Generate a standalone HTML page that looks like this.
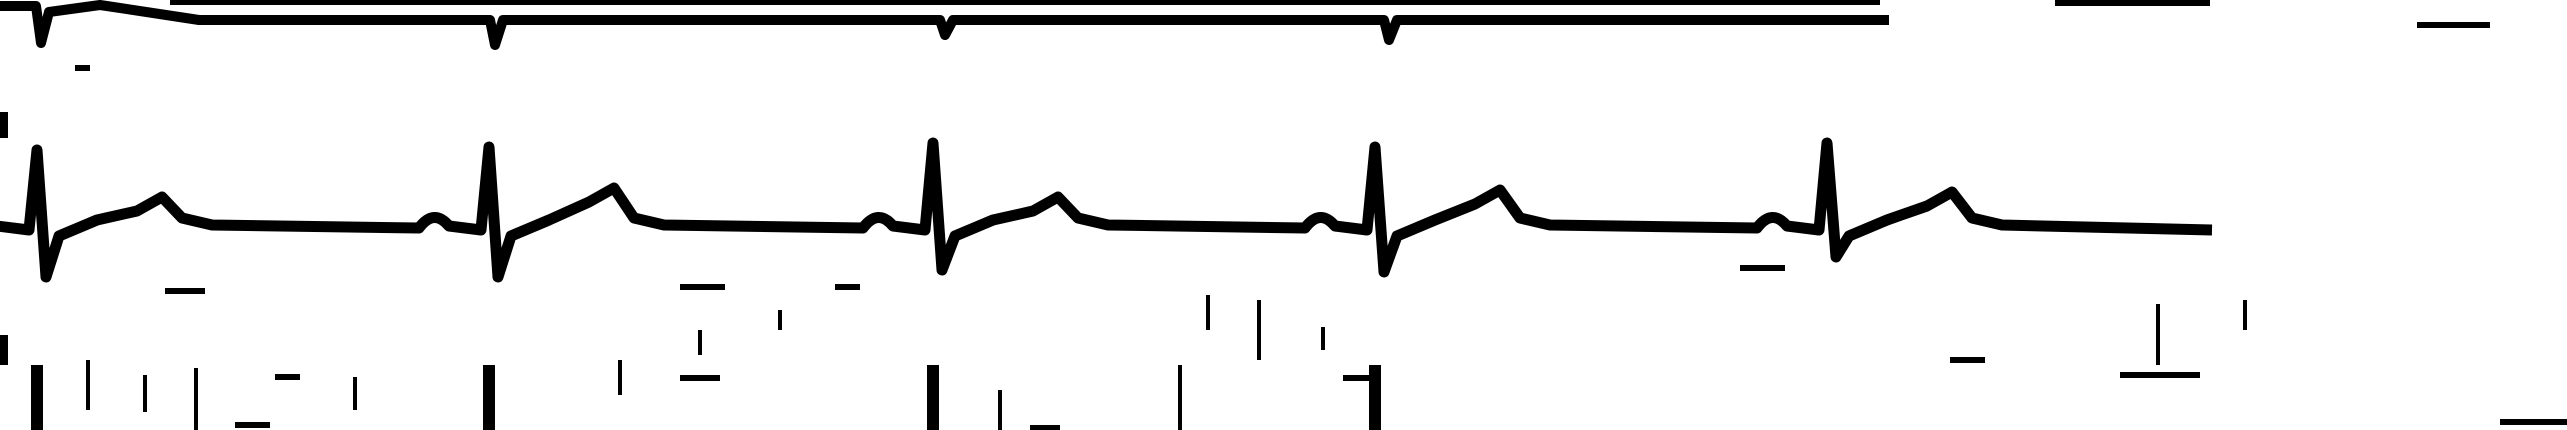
<!DOCTYPE html>
<html><head><meta charset="utf-8"><style>
html,body{margin:0;padding:0;background:#fff;width:2567px;height:430px;overflow:hidden}
svg{display:block}
</style></head><body>
<svg id="ecg" width="2567" height="430" viewBox="0 0 2567 430" xmlns="http://www.w3.org/2000/svg">
<g id="marks" stroke="#000" fill="none" stroke-linejoin="round" stroke-linecap="butt"></g>
</svg>
<script>
// beat positions (px along strip)
const beatsMid = [37, 489, 933, 1375, 1827];
const rPeakMid = [150, 147, 143, 147, 143];
const sTroughMid = [277, 277, 270, 272, 257];
const tPeakMid = [197, 188, 197, 190, 192];
const beatsTop = [41, 495, 945, 1389];
const spikeTop = [43, 45, 35, 40];
const beatsBot = [37, 489, 933, 1375];
const scraps = [[40,380,40,430],[88,360,88,410],[145,375,145,412],[196,368,196,430],[355,377,355,410],[443,437,443,430],[620,360,620,395],[700,330,700,355],[780,310,780,330],[1000,390,1000,430],[1180,365,1180,430],[1208,295,1208,330],[1259,300,1259,360],[1323,327,1323,350],[2158,304,2158,365],[2245,300,2245,330]];
const dashes = [[235,425,270,425],[275,377,300,377],[680,378,720,378],[1030,428,1060,428],[1343,378,1370,378],[1950,360,1985,360],[2120,375,2200,375],[2500,422,2567,422],[75,68,90,68],[165,291,205,291],[680,287,725,287],[835,287,860,287],[1740,268,1785,268],[2417,25,2490,25]];
const baseY = 228;

const grp = document.getElementById('marks');
function add(tag, attrs){const e=document.createElementNS('http://www.w3.org/2000/svg',tag);for(const k in attrs)e.setAttribute(k,attrs[k]);grp.appendChild(e);return e;}

// middle lead
let dMid = 'M0,' + baseY;
beatsMid.forEach((x, i) => {
  dMid += ` L${x-70},${baseY} Q${x-55},${baseY-20} ${x-40},${baseY-2} L${x-8},${baseY+2} L${x},${rPeakMid[i]} L${x+9},${sTroughMid[i]} L${x+22},${baseY+8} L${x+60},${baseY-8} L${x+100},${tPeakMid[i]+14} L${x+125},${tPeakMid[i]} L${x+145},${baseY-10} L${x+175},${baseY-3}`;
});
dMid += ' L2212,' + (baseY + 2);
const midTrace = add('path', {d: dMid, 'stroke-width': 11});



// top lead
let dTop = 'M0,6 L30,6';
beatsTop.forEach((x, i) => {
  dTop += ` L${x-5},${i===0?6:20} L${x},${spikeTop[i]} L${x+8},${i===0?12:20}`;
  if (i===0) dTop += ' L100,5 L199,20';
});
dTop += ' L1889,20';
const topTrace = add('path', {d: dTop, 'stroke-width': 10});


const topFrag = add('path', {d: 'M170,2 L1880,2 M2055,3 L2210,3', 'stroke-width': 6});



// bottom lead QRS fragments
beatsBot.forEach((x) => {
  const b = add('path', {d: `M${x},365 L${x},430`, 'stroke-width': 12});
  
  
});
scraps.forEach(s => {
  const l = add('line', {x1:s[0], y1:s[1], x2:s[2], y2:s[3], 'stroke-width': 4});
  
  
});
dashes.forEach(s => {
  const l = add('line', {x1:s[0], y1:s[1], x2:s[2], y2:s[3], 'stroke-width': 6});
  
  
});
// left edge marks
[[4,112,4,138],[4,335,4,365]].forEach(s => {
  const l = add('line', {x1:s[0], y1:s[1], x2:s[2], y2:s[3], 'stroke-width': 8});
  
  
});
</script>
</body></html>
